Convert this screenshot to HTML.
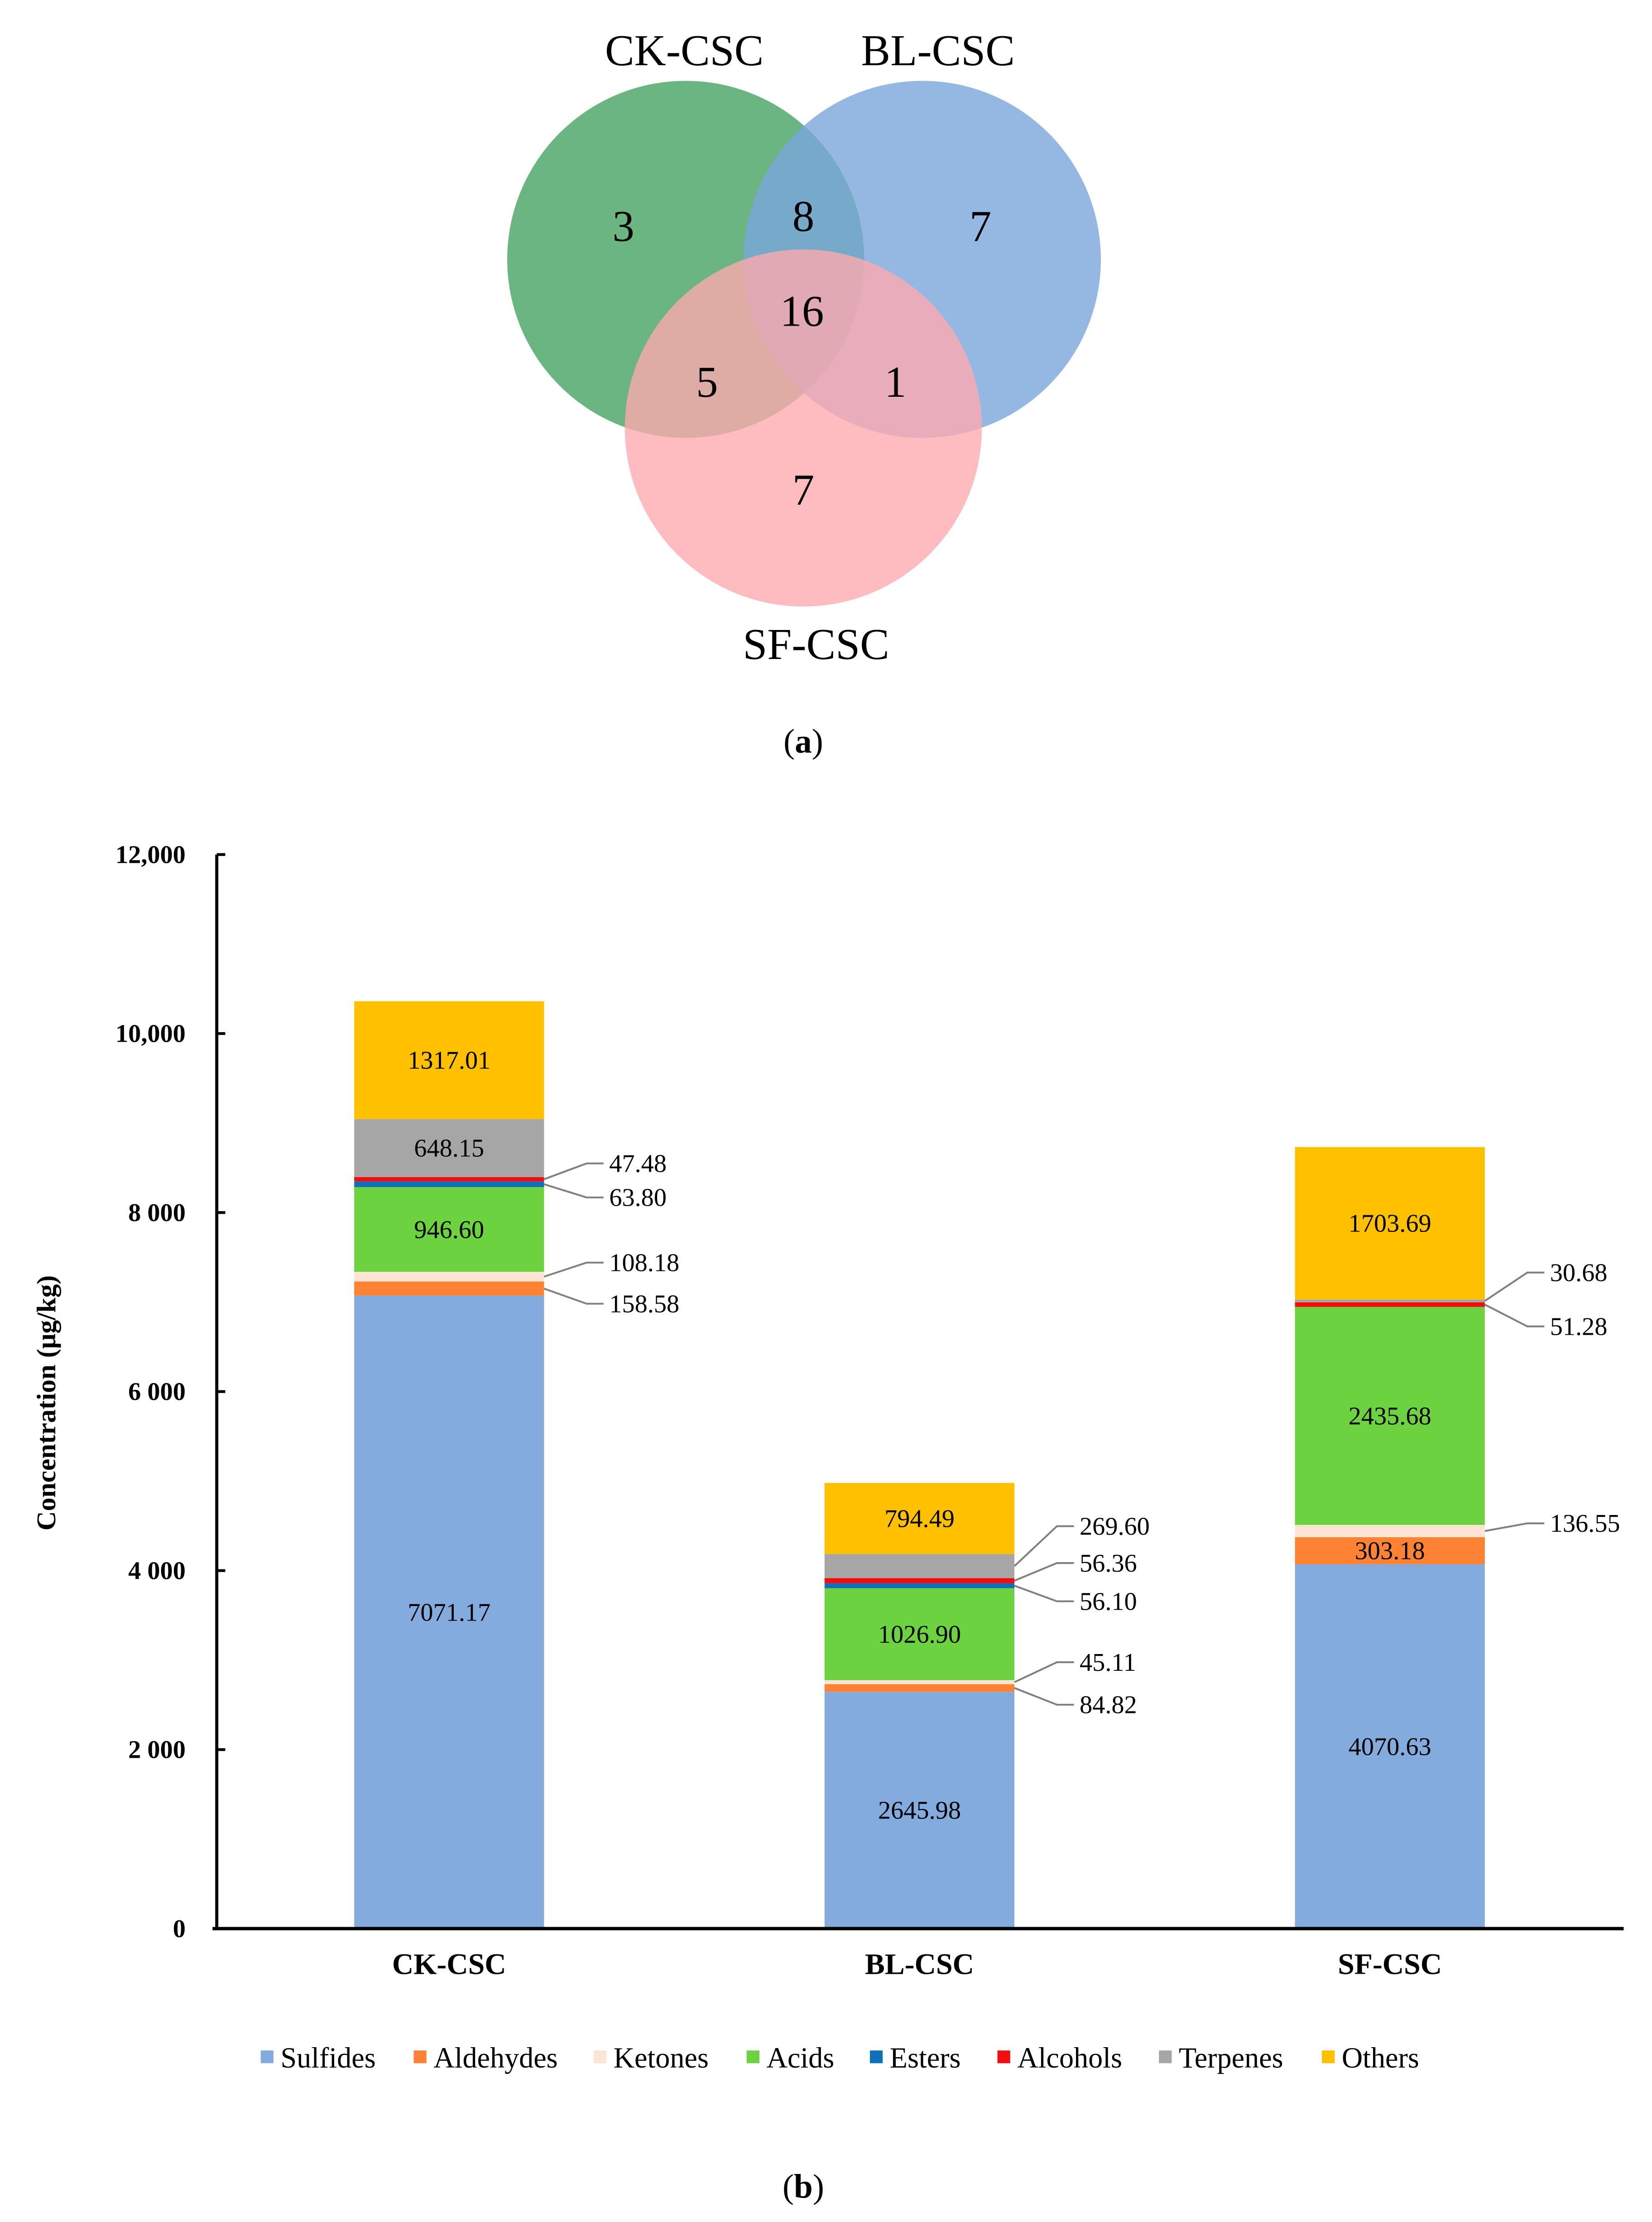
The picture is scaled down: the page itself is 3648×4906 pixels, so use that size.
<!DOCTYPE html>
<html><head><meta charset="utf-8"><style>html,body{margin:0;padding:0;background:#fff}svg{display:block}svg text{font-family:"Liberation Serif","DejaVu Serif",serif}</style></head>
<body>
<svg id="fig" width="3648" height="4906" viewBox="0 0 1166 1568" xmlns="http://www.w3.org/2000/svg">
<g>
<circle cx="484" cy="183" r="126" fill="#4aa564" fill-opacity="0.82"/>
<circle cx="651" cy="183" r="126" fill="#7aa6dc" fill-opacity="0.8"/>
<circle cx="567" cy="302" r="126" fill="#ffa9ae" fill-opacity="0.78"/>
<g font-size="31" text-anchor="middle" fill="#000">
<text x="483" y="46">CK-CSC</text>
<text x="662" y="46">BL-CSC</text>
<text x="576" y="465">SF-CSC</text>
<text x="440" y="170">3</text>
<text x="567" y="163">8</text>
<text x="692" y="170">7</text>
<text x="566" y="230">16</text>
<text x="499" y="280">5</text>
<text x="632" y="280">1</text>
<text x="567" y="356">7</text>
</g>
<text x="567" y="531" font-size="24" text-anchor="middle">(<tspan font-weight="bold">a</tspan>)</text>
</g>
<g id="chart"></g>
<text x="567" y="1551" font-size="24" text-anchor="middle">(<tspan font-weight="bold">b</tspan>)</text>
</svg>
<script>
const categories = ["CK-CSC","BL-CSC","SF-CSC"];
const seriesNames = ["Sulfides","Aldehydes","Ketones","Acids","Esters","Alcohols","Terpenes","Others"];
const seriesColors = ["#84abdd","#fd8233","#fde5d6","#6dd240","#0f6fb8","#f50d0d","#a6a6a6","#ffc000"];
const sulfides = [7071.17, 2645.98, 4070.63];
const aldehydes = [158.58, 84.82, 303.18];
const ketones = [108.18, 45.11, 136.55];
const acids = [946.60, 1026.90, 2435.68];
const esters = [63.80, 56.10, 0];
const alcohols = [47.48, 56.36, 51.28];
const terpenes = [648.15, 269.60, 30.68];
const others = [1317.01, 794.49, 1703.69];
const yTicks = [0, 2000, 4000, 6000, 8000, 10000, 12000];
const yTickLabels = ["0","2 000","4 000","6 000","8 000","10,000","12,000"];
const series = [sulfides, aldehydes, ketones, acids, esters, alcohols, terpenes, others];
const calloutY = [
  {5:821, 4:845, 2:891, 1:920},
  {6:1077, 5:1103, 4:1130, 2:1173, 1:1203},
  {6:898, 5:936, 2:1075}
];
const NS = "http://www.w3.org/2000/svg";
const g = document.getElementById('chart');
const X0 = 153, XEND = 1146, Y0 = 1361, YTOP = 603, YMAX = 12000;
const y = v => Y0 - v / YMAX * (Y0 - YTOP);
const xc = i => 317 + i * 332;
const BW = 134;
function mk(tag, attrs, parent){const e=document.createElementNS(NS,tag);for(const k in attrs)e.setAttribute(k,attrs[k]);(parent||g).appendChild(e);return e;}
const fmt = v => v.toFixed(2);
let e = mk('line',{x1:X0,y1:YTOP,x2:X0,y2:Y0,stroke:'#000','stroke-width':2.2});


yTicks.forEach((t,i)=>{
  let tk = mk('line',{x1:X0,y1:y(t),x2:X0+6,y2:y(t),stroke:'#000','stroke-width':2});
  
  
  let tl = mk('text',{x:131,y:y(t)+6,'font-size':18,'font-weight':'bold','text-anchor':'end'});
  tl.textContent = yTickLabels[i];
  
  
});
let yt = mk('text',{x:0,y:0,'font-size':19,'font-weight':'bold','text-anchor':'middle',transform:'translate(39,990) rotate(-90)'});
yt.textContent = 'Concentration (μg/kg)';


categories.forEach((c,i)=>{
  let base = 0;
  series.forEach((s,k)=>{
    const v = s[i];
    if (v <= 0) return;
    const r = mk('rect',{x:xc(i)-BW/2,y:y(base+v),width:BW,height:y(base)-y(base+v),fill:seriesColors[k]});
    
    
    const mid = y(base+v/2);
    const cy = calloutY[i][k];
    if (cy !== undefined) {
      const p = mk('polyline',{points:`${xc(i)+BW/2},${mid} ${xc(i)+BW/2+30},${cy} ${xc(i)+BW/2+42},${cy}`,fill:'none',stroke:'#808080','stroke-width':1.3});
      
      
      const t = mk('text',{x:xc(i)+BW/2+46,y:cy+6,'font-size':18});
      t.textContent = fmt(v);
      
      
    } else {
      const t = mk('text',{x:xc(i),y:mid+6,'font-size':18,'text-anchor':'middle'});
      t.textContent = fmt(v);
      
      
    }
    base += v;
  });
  const cl = mk('text',{x:xc(i),y:1393,'font-size':21,'font-weight':'bold','text-anchor':'middle'});
  cl.textContent = c;
  
  
});
e = mk('line',{x1:X0-3,y1:Y0,x2:XEND,y2:Y0,stroke:'#000','stroke-width':2.4});


const legX = [184,292,419,527,614,704,818,933];
seriesNames.forEach((n,k)=>{
  const m = mk('rect',{x:legX[k],y:1447,width:9,height:9,fill:seriesColors[k]});
  
  
  const t = mk('text',{x:legX[k]+14,y:1459,'font-size':20.5});
  t.textContent = n;
  
  
});
</script>
</body></html>
